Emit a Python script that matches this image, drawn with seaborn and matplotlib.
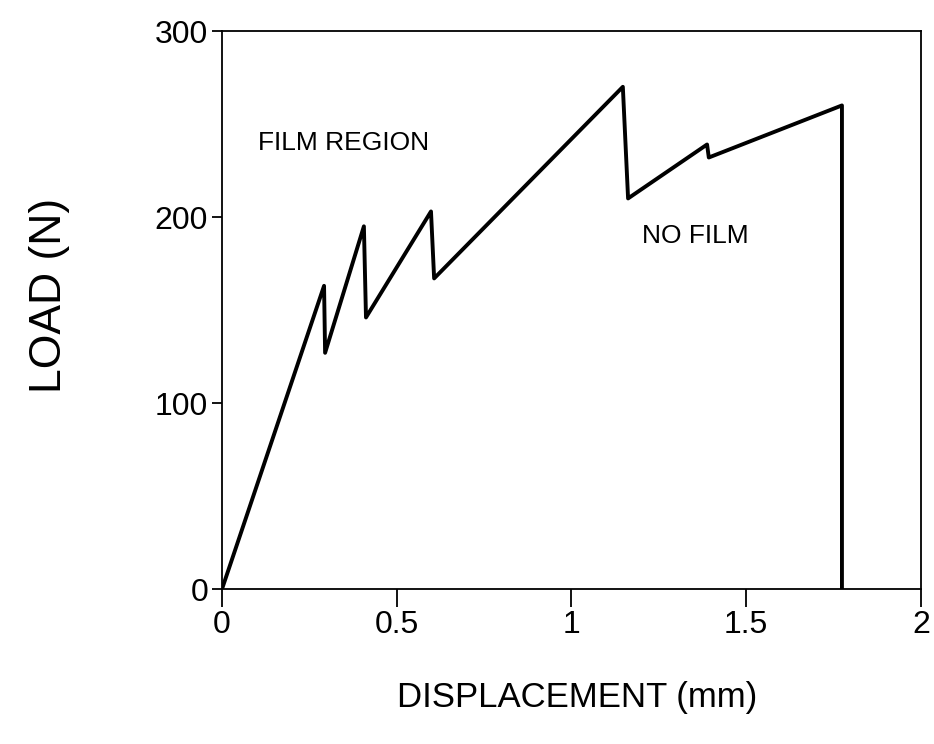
import matplotlib
matplotlib.use("Agg")
import matplotlib.pyplot as plt
import pandas as pd
import seaborn as sns

# load-displacement curve
displacement = [0.0, 0.292, 0.295, 0.406, 0.412, 0.598, 0.607, 1.147, 1.162,
                1.388, 1.393, 1.774, 1.774]
load = [0, 163, 127, 195, 146, 203, 167, 270, 210, 239, 232, 260, 0]

x_ticks = [0, 0.5, 1, 1.5, 2]
x_tick_labels = ["0", "0.5", "1", "1.5", "2"]
y_ticks = [0, 100, 200, 300]

df = pd.DataFrame({"disp": displacement, "load": load})

sns.set_style("ticks")
plt.rcParams["font.family"] = ["Liberation Sans", "DejaVu Sans"]
plt.rcParams["text.color"] = "black"
plt.rcParams["xtick.color"] = "black"
plt.rcParams["ytick.color"] = "black"
plt.rcParams["axes.labelcolor"] = "black"

fig = plt.figure(figsize=(9.34, 7.44), dpi=100)
ax = fig.add_axes([0.2377, 0.2083, 0.7483, 0.75])

sns.lineplot(data=df, x="disp", y="load", sort=False, estimator=None,
             color="black", linewidth=2.8, ax=ax)

ax.set_xlim(0, 2)
ax.set_ylim(0, 300)
ax.set_xticks(x_ticks)
ax.set_xticklabels(x_tick_labels)
ax.set_yticks(y_ticks)
ax.tick_params(axis="x", direction="out", length=13, width=1.3, labelsize=23, pad=2)
ax.tick_params(axis="y", direction="out", length=7, width=1.3, labelsize=23, pad=3)
for s in ax.spines.values():
    s.set_linewidth(1.3)
    s.set_color("black")

ax.set_xlabel("DISPLACEMENT (mm)", fontsize=25)
ax.set_ylabel("LOAD (N)", fontsize=32)
ax.xaxis.set_label_coords(0.508, -0.165)
ax.yaxis.set_label_coords(-0.218, 0.526)

ax.text(0.103, 240, "FILM REGION", fontsize=19, va="center", ha="left")
ax.text(1.203, 190, "NO FILM", fontsize=19, va="center", ha="left")

fig.savefig("out.png", dpi=100)
